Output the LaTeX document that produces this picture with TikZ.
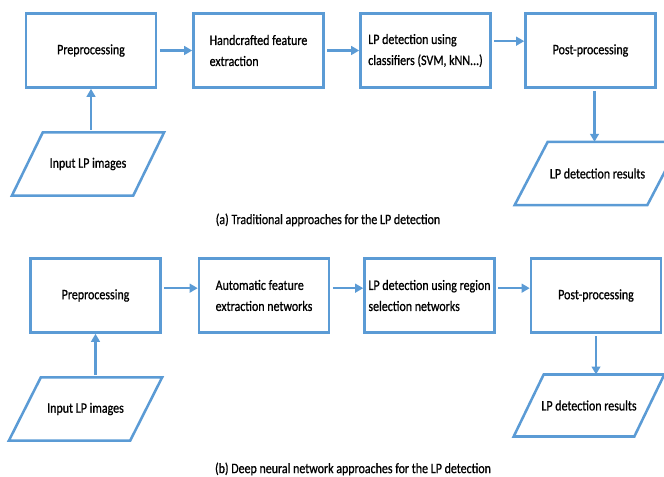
\documentclass[tikz,border=0pt]{standalone}
\usepackage{fontspec}
\setmainfont{Carlito}[FakeStretch=0.83,FakeBold=0.8]
\usepackage{tikz}
\usetikzlibrary{arrows.meta}
\definecolor{flowblue}{RGB}{91,155,213}
% parallelogram round a data node: node name, half of the slant
\newcommand{\dataframe}[2]{\draw [frame] ([xshift=-#2]#1.south west) -- ([xshift=#2]#1.north west)
    -- ([xshift=#2]#1.north east) -- ([xshift=-#2]#1.south east) -- cycle;}

\begin{document}
\begin{tikzpicture}[x=0.75pt, y=-0.75pt,
    font=\fontsize{10.8}{15.75}\selectfont,
    frame/.style = {draw=flowblue, line width=1.9pt, line join=miter},
    stage/.style = {frame, rectangle, minimum width=97.5pt, minimum height=55.5pt, align=left, inner sep=2pt},
    data/.style = {rectangle, minimum height=47.5pt, inner sep=2pt, outer sep=0pt},
    flow/.style = {draw=flowblue, line width=2pt, -{Triangle[length=6pt,width=6.5pt]}, shorten <=2pt}]
    \useasboundingbox (0,0) rectangle (664,477);
    % (a) traditional pipeline
    \node [stage] (prea) at (91,50.5) {Preprocessing};
    \node [stage] (handa) at (258.5,50.5) {Handcrafted feature\\extraction};
    \node [stage] (clsa) at (425.5,50.5) {LP detection using\\classifiers (SVM, kNN...)};
    \node [stage] (posta) at (590.5,50.5) {Post-processing};
    \node [data, minimum width=91pt] (ina) at (88,164) {Input LP images};
    \dataframe{ina}{11.6pt}
    \node [data, minimum width=99.5pt] (resa) at (597.5,173.5) {LP detection results};
    \dataframe{resa}{12.4pt}
    \draw [flow] (prea) -- (handa);
    \draw [flow] (handa) -- (clsa);
    \draw [flow] ([yshift=7pt]clsa.east) -- ([yshift=7pt]clsa.east -| posta.west);
    \draw [flow] (prea.south |- ina.north) -- (prea.south);
    \draw [flow] ([xshift=3pt]posta.south) -- ([xshift=3pt]posta.south |- resa.north);
    \node (capa) at (328,220) {(a) Traditional approaches for the LP detection};
    % (b) deep network pipeline
    \node [stage] (preb) at (95.5,295.5) {Preprocessing};
    \node [stage] (autob) at (264,295.5) {Automatic feature\\extraction networks};
    \node [stage] (regb) at (429.5,295.5) {LP detection using region\\selection networks};
    \node [stage] (postb) at (596,295.5) {Post-processing};
    \node [data, minimum width=91pt] (inb) at (85.5,409) {Input LP images};
    \dataframe{inb}{12pt}
    \node [data, minimum width=90.5pt, minimum height=46.5pt] (resb) at (589,405.5) {LP detection results};
    \dataframe{resb}{11.25pt}
    \draw [flow] ([yshift=5.5pt]preb.east) -- ([yshift=5.5pt]preb.east -| autob.west);
    \draw [flow] ([yshift=5.5pt]autob.east) -- ([yshift=5.5pt]autob.east -| regb.west);
    \draw [flow] ([yshift=5.5pt]regb.east) -- ([yshift=5.5pt]regb.east -| postb.west);
    \draw [flow] (preb.south |- inb.north) -- (preb.south);
    \draw [flow] (postb.south) -- (postb.south |- resb.north);
    \node (capb) at (353,469) {(b) Deep neural network approaches for the LP detection};
\end{tikzpicture}
\end{document}
